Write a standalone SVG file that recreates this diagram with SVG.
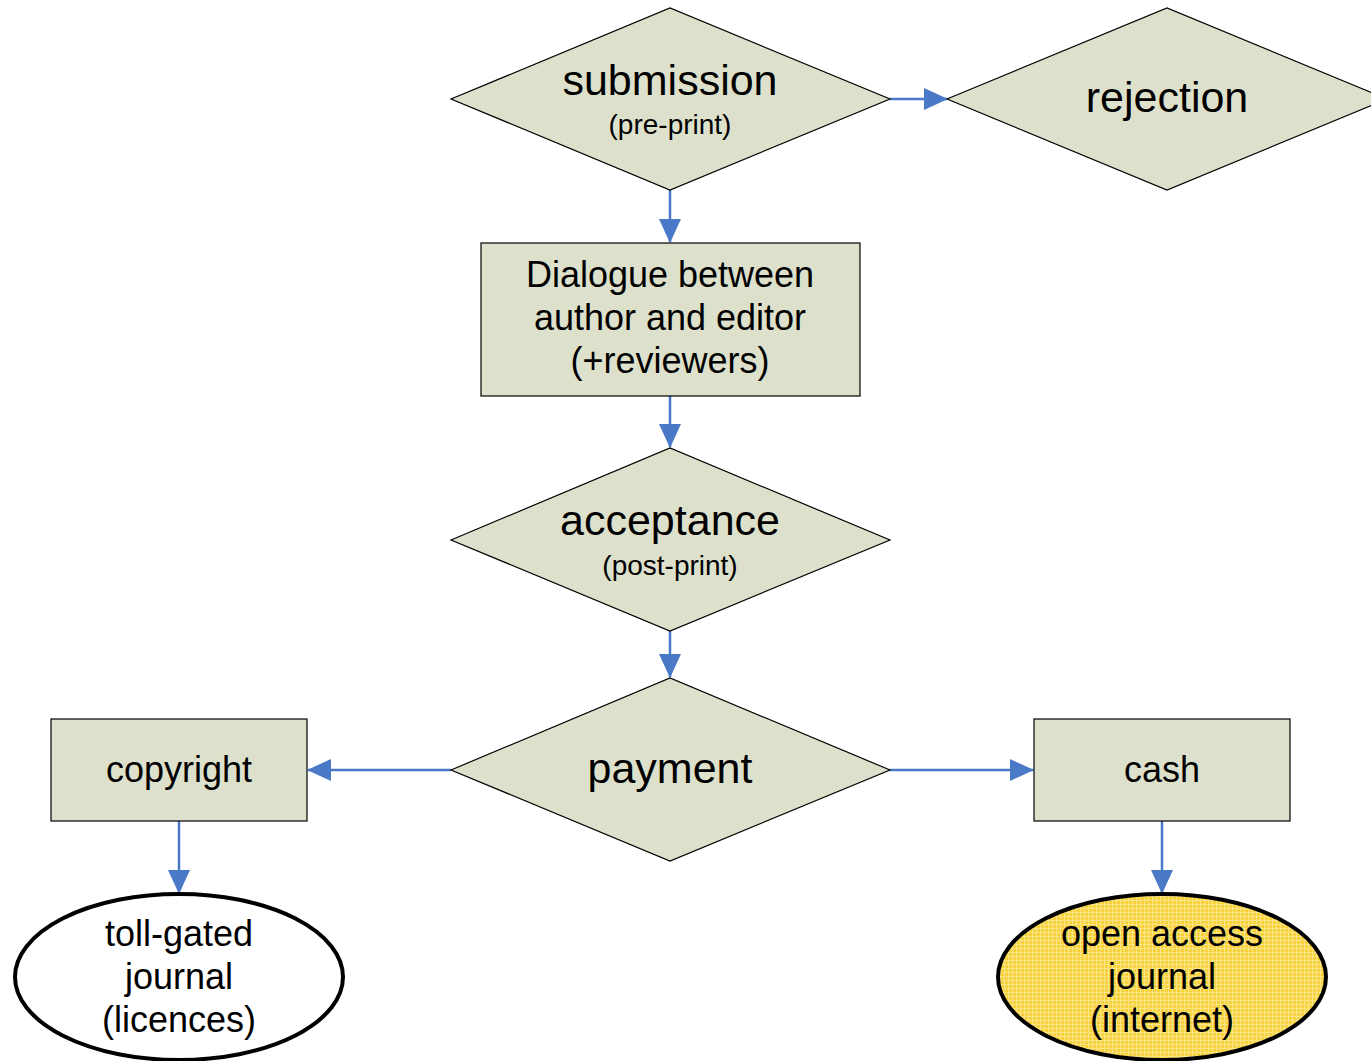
<svg xmlns="http://www.w3.org/2000/svg" width="1371" height="1061" viewBox="0 0 1371 1061">
<style>
.shape{fill:#DDE1CB;stroke:#000;stroke-width:1.2}
.conn{stroke:#4A7AC7;stroke-width:2.5;fill:none}
.t{font-family:"Liberation Sans",Arial,sans-serif;fill:#000;text-anchor:middle}
.big{font-size:43px}
.mid{font-size:36px}
.small{font-size:28px}
.ell{stroke:#000;stroke-width:4}
</style>
<defs>
<marker id="ah" markerWidth="24" markerHeight="24" viewBox="0 0 24 24" refX="23" refY="12" orient="auto" markerUnits="userSpaceOnUse">
<path d="M0,1 L24,12 L0,23 Z" fill="#4A7AC7"/>
</marker>
<pattern id="grid" width="4" height="4" patternUnits="userSpaceOnUse">
<rect width="4" height="4" fill="#F7D23A"/>
<path d="M0,0.5 H4 M0.5,0 V4" stroke="#FBE488" stroke-width="1"/>
</pattern>
</defs>
<rect width="1371" height="1061" fill="#fff"/>
<g id="connectors">
<line class="conn" x1="890" y1="99" x2="947" y2="99" marker-end="url(#ah)"/>
<line class="conn" x1="670" y1="190" x2="670" y2="242" marker-end="url(#ah)"/>
<line class="conn" x1="670" y1="396" x2="670" y2="447" marker-end="url(#ah)"/>
<line class="conn" x1="670" y1="631" x2="670" y2="677" marker-end="url(#ah)"/>
<line class="conn" x1="451" y1="770" x2="308" y2="770" marker-end="url(#ah)"/>
<line class="conn" x1="890" y1="770" x2="1033" y2="770" marker-end="url(#ah)"/>
<line class="conn" x1="179" y1="821" x2="179" y2="893" marker-end="url(#ah)"/>
<line class="conn" x1="1162" y1="821" x2="1162" y2="893" marker-end="url(#ah)"/>
</g>
<g id="submission">
<polygon class="shape" points="451,99 670,8 890,99 670,190"/>
<text class="t big" x="670" y="95">submission</text>
<text class="t small" x="670" y="134">(pre-print)</text>
</g>
<g id="rejection">
<polygon class="shape" points="947,99 1167,8 1387,99 1167,190"/>
<text class="t big" x="1167" y="112">rejection</text>
</g>
<g id="dialogue">
<rect class="shape" x="481" y="243" width="379" height="153"/>
<text class="t mid" x="670" y="287">Dialogue between</text>
<text class="t mid" x="670" y="330">author and editor</text>
<text class="t mid" x="670" y="373">(+reviewers)</text>
</g>
<g id="acceptance">
<polygon class="shape" points="451,540 670,448 890,540 670,631"/>
<text class="t big" x="670" y="535">acceptance</text>
<text class="t small" x="670" y="575">(post-print)</text>
</g>
<g id="payment">
<polygon class="shape" points="451,770 670,678 890,770 670,861"/>
<text class="t big" x="670" y="783">payment</text>
</g>
<g id="copyright">
<rect class="shape" x="51" y="719" width="256" height="102"/>
<text class="t mid" x="179" y="782">copyright</text>
</g>
<g id="cash">
<rect class="shape" x="1034" y="719" width="256" height="102"/>
<text class="t mid" x="1162" y="782">cash</text>
</g>
<g id="tollgated">
<ellipse class="ell" cx="179" cy="977" rx="164" ry="83" fill="#fff"/>
<text class="t mid" x="179" y="946">toll-gated</text>
<text class="t mid" x="179" y="989">journal</text>
<text class="t mid" x="179" y="1032">(licences)</text>
</g>
<g id="openaccess">
<ellipse class="ell" cx="1162" cy="977" rx="164" ry="83" fill="url(#grid)"/>
<text class="t mid" x="1162" y="946">open access</text>
<text class="t mid" x="1162" y="989">journal</text>
<text class="t mid" x="1162" y="1032">(internet)</text>
</g>
</svg>
